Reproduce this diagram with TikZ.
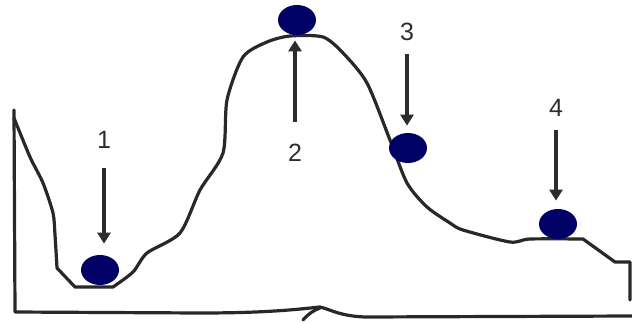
\documentclass[tikz,border=0pt]{standalone}
\usepackage{fontspec}
\setmainfont{Liberation Sans}
\usepackage{tikz}
\usetikzlibrary{shapes.geometric, arrows.meta, positioning}
\definecolor{ballblue}{RGB}{0, 0, 102}
\definecolor{inkgray}{RGB}{45, 45, 45}

\begin{document}
\begin{tikzpicture}[x=0.5pt, y=-0.5pt,
    ball/.style={ellipse, fill=ballblue, minimum width=19pt, minimum height=15pt, inner sep=0pt},
    numlabel/.style={text=inkgray, font=\fontsize{12.5}{14}\selectfont, inner sep=0pt},
    pointer/.style={draw=inkgray, line width=2pt, -{Triangle[length=5.5pt, width=6.5pt]}},
    ground/.style={draw=inkgray!90!black, line width=1.6pt, line join=round, line cap=round}]
    \useasboundingbox (0,0) rectangle (632,322);

    % Landscape
    \draw[ground] (14,110) -- (15,312) -- (200,313)
        .. controls (270,313) and (300,309) .. (320,307)
        .. controls (332,310) and (340,316) .. (365,317) -- (632,316);
    \draw[ground] (303,320) .. controls (308,314) and (314,310) .. (320,308);
    \draw[ground] plot[smooth, tension=0.45] coordinates {
        (14,118) (30,157) (43,183) (53,213) (55,235) (57,268)}
        -- (75,287) -- (113,287) --
        plot[smooth, tension=0.45] coordinates {
        (113,287) (133,272) (147,253) (180,233) (200,190) (223,153)
        (227,100) (243,57) (267,42) (290,36) (323,37) (343,53) (367,83)
        (390,140) (407,183) (427,207) (450,223) (463,230) (510,242)
        (530,239) (583,239)} -- (615,262) -- (630,262) -- (630,300);

    % Balls
    \node[ball] (ball1) at (100,270) {};
    \node[ball] (ball2) at (297,20) {};
    \node[ball] (ball3) at (408,148) {};
    \node[ball] (ball4) at (558,224) {};

    % Labels
    \node[numlabel] (lbl1) at (104,140) {1};
    \node[numlabel] (lbl2) at (295,153) {2};
    \node[numlabel] (lbl3) at (407,32) {3};
    \node[numlabel] (lbl4) at (556,108) {4};

    % Arrows
    \draw[pointer, shorten <=9.5pt, shorten >=5.5pt] (lbl1.south) -- (lbl1.south |- ball1.north);
    \draw[pointer, shorten <=11pt, shorten >=2.5pt] (lbl2.north) -- (lbl2.north |- ball2.south);
    \draw[pointer, shorten <=6.5pt, shorten >=3.5pt] (lbl3.south) -- (lbl3.south |- ball3.north);
    \draw[pointer, shorten <=6.5pt, shorten >=4pt] (lbl4.south) -- (lbl4.south |- ball4.north);
\end{tikzpicture}
\end{document}
